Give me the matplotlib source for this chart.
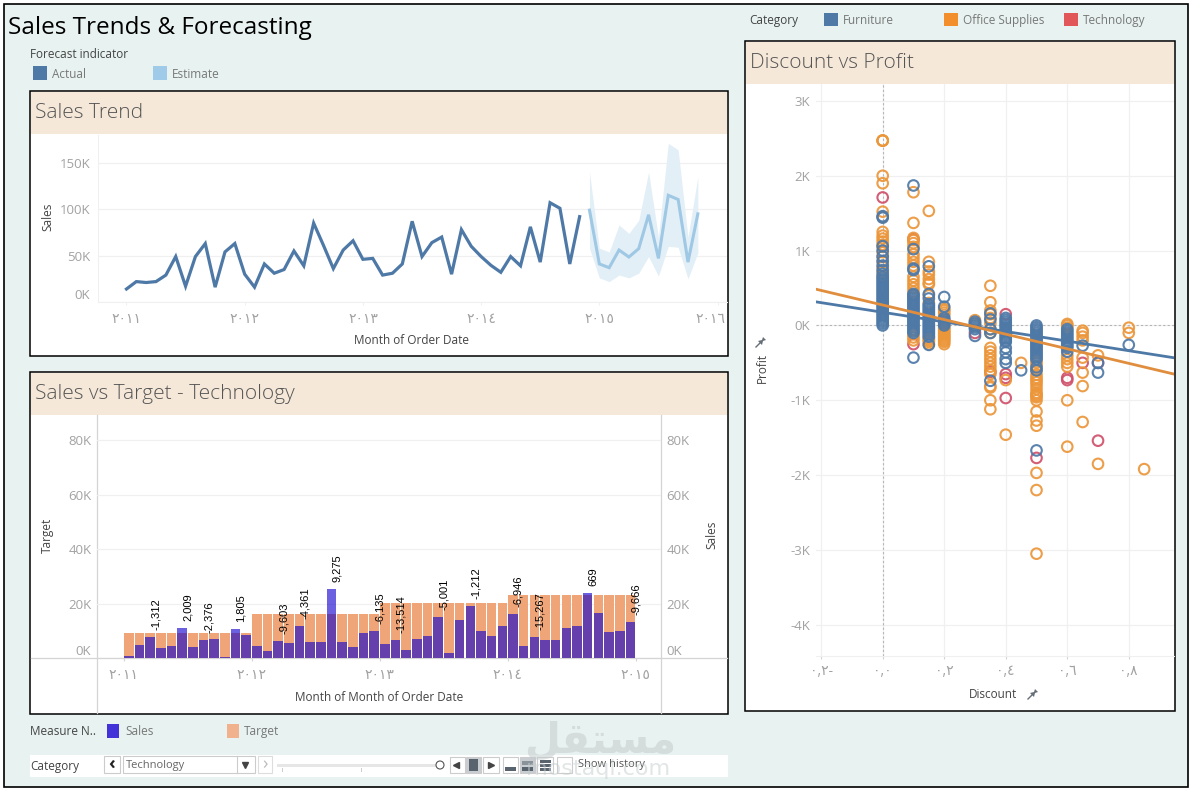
"""Sales Trends & Forecasting dashboard, redrawn with matplotlib."""

import matplotlib as mpl
mpl.use("Agg")
import matplotlib.pyplot as plt
from matplotlib.patches import Rectangle, Circle, Polygon
from matplotlib.transforms import ScaledTranslation

plt.rcParams['font.family'] = ['Open Sans', 'DejaVu Sans']

# === Sales trend (in K) ===
actual_sales = [14, 22, 21, 22, 29, 49, 17, 49, 63, 16, 54, 63,
                30, 16, 41, 31, 35, 55, 39, 85, 61, 36, 56, 66,
                46, 47, 29, 31, 41, 87, 49, 64, 70, 30, 78, 60,
                49, 39.5, 32, 49, 39, 81, 43, 107, 101, 41, 92]
estimate_sales = [99, 41, 37, 56, 48.5, 57.5, 94, 47, 115, 110.5, 43, 95]
estimate_upper = [140, 58, 54, 83, 74, 88, 140, 70, 171, 164, 70, 135]
estimate_lower = [58, 26, 22, 29, 26, 31, 49, 28, 60, 59, 25, 53]
year_labels = ["٢٠١١", "٢٠١٢", "٢٠١٣", "٢٠١٤", "٢٠١٥", "٢٠١٦"]

# === Sales vs target, Technology (in K) ===
target_by_year = [9.2, 16.1, 20.2, 23.0]
tech_sales = [0.6, 4.6, 7.6, 3.5, 4.3, 11.0, 3.9, 6.5, 6.9, 0.4, 10.8, 8.3,
              4.3, 2.4, 6.1, 5.4, 11.6, 5.7, 5.7, 25.3, 5.7, 3.9, 9.05, 9.9,
              5.0, 6.6, 2.9, 7.0, 8.0, 15.2, 1.7, 13.8, 19.0, 9.8, 8.0, 11.6,
              16.1, 4.3, 7.7, 6.5, 6.5, 10.9, 11.6, 23.7, 16.5, 9.4, 9.8, 13.1]
gap_months = [2, 5, 7, 10, 14, 16, 19, 23, 25, 29, 32, 36, 38, 43, 47]
gap_labels = ["-1,312", "2,009", "-2,376", "1,805", "-9,603", "-4,361", "9,275", "-6,135",
              "-13,514", "-5,001", "-1,212", "-6,946", "-15,267", "669", "-9,666"]

# === Discount vs profit (profit in K) ===
furniture = {
    0.0: [0, .025, .05, .075, .1, .125, .15, .175, .2, .225, .25, .275, .3, .325, .35, .375,
          .4, .425, .45, .475, .5, .525, .55, .575, .6, .625, .65, .69, .74, .8, .86, .92,
          1.0, 1.06, 1.44, 1.46],
    0.1: [1.87, 1.02, .76, .74, .42, .4, .375, .35, .325, .3, .275, .25, .225, .2, .175, .15,
          .125, .1, .075, .05, .025, 0, -.025, -.05, -.075, -.1, -.43],
    0.15: [.79, .42, .36, .28, .255, .23, .205, .18, .155, .13, .105, .08, .055, .03, .005,
           -.02, -.045, -.07, -.095, -.12, -.15, -.26],
    0.2: [.38, .25, .1, .075, .05, .025, 0],
    0.3: [.05, .025, 0, -.025, -.05, -.14],
    0.35: [.16, .08, -.05, -.1, -.74],
    0.4: [.1, .075, .05, .025, 0, -.025, -.05, -.075, -.1, -.125, -.15, -.175, -.2, -.22,
          -.3, -.36, -.45, -.5],
    0.45: [-.6],
    0.5: [0, -.025, -.05, -.075, -.1, -.125, -.15, -.175, -.2, -.225, -.25, -.275, -.3, -.325,
          -.35, -.375, -.4, -.425, -.45, -.56, -.6, -1.67],
    0.6: [-.05, -.075, -.1, -.125, -.15, -.175, -.2, -.225, -.25, -.275, -.3, -.35],
    0.65: [-.27],
    0.7: [-.5, -.63],
    0.8: [-.26],
}
office = {
    0.0: [2.47, 2.47, 2.47, 2.0, 1.9, 1.52, 1.45, 1.25, 1.2, 1.16, 1.12, 1.08, 1.05,
          .98, .92, .85, .78, .72, .66],
    0.1: [1.78, 1.37, 1.17, 1.14, 1.1, 1.05, .95, .9, .85, .8, .65, .6, .55, .5, .45,
          .4, -.12, -.16, -.2],
    0.15: [1.53, .85, .72, .68, .62, .57, .55, .4, .3, -.16, -.18, -.2, -.22, -.25],
    0.2: [.22, .2, .17, .14, .05, -.02, -.04, -.06, -.08, -.1, -.12, -.14, -.16, -.18, -.2, -.22, -.25],
    0.3: [.07, .03, 0],
    0.35: [.53, .31, .2, .15, .1, .03, -.05, -.1, -.3, -.35, -.4, -.45, -.5, -.55, -.6,
           -.65, -.81, -.83, -1.0, -1.12],
    0.4: [-.73, -1.46],
    0.45: [-.5],
    0.5: [-.47, -.5, -.54, -.6, -.66, -.7, -.73, -.76, -.8, -.85, -.9, -.92, -.94, -.96, -1.0,
          -1.15, -1.27, -1.34, -1.97, -2.2, -3.05],
    0.6: [.02, 0, -.03, -.4, -.45, -.5, -.55, -1.0, -1.62],
    0.65: [-.07, -.1, -.15, -.2, -.43, -.63, -.81, -1.29],
    0.7: [-.4, -1.85],
    0.8: [-.03, -.1],
    0.85: [-1.92],
}
technology = {
    0.0: [1.71],
    0.1: [1.15, -.25],
    0.3: [-.1],
    0.35: [-.62],
    0.4: [.15, -.65, -.7, -.97],
    0.5: [-1.77],
    0.6: [-.7, -.73],
    0.65: [-.5],
    0.7: [-.5, -1.54],
}
trend_x = [-0.2168, 0.947]
trend_furniture = [0.315, -0.432]
trend_office = [0.484, -0.65]
discount_ticks = [-0.2, 0, 0.2, 0.4, 0.6, 0.8]
discount_labels = ["٠,٢-", "٠,٠", "٠,٢", "٠,٤", "٠,٦", "٠,٨"]
profit_ticks = [-4, -3, -2, -1, 0, 1, 2, 3]

# Farben
BG = "#e8f2f1"
BAND = "#f5e8d8"
BLUE = "#4e79a7"
LIGHTBLUE = "#a0cbe8"
ORANGE = "#f28e2b"
RED = "#e15759"
GRID = "#f0f0f0"
AXIS = "#d4d4d4"
TICK = "#a2a2a2"
LABEL = "#444444"

W, H = 1200, 797
fig = plt.figure(figsize=(W / 100, H / 100), dpi=100, facecolor="white")

# Hintergrund in Pixelkoordinaten
bg = fig.add_axes([0, 0, 1, 1], zorder=0)
bg.set_xlim(0, W)
bg.set_ylim(H, 0)
bg.axis("off")


def chart_axes(x0, y0, x1, y1):
    """Achse aus Pixelrechteck (y von oben gezählt)"""
    a = fig.add_axes([x0 / W, 1 - y1 / H, (x1 - x0) / W, (y1 - y0) / H], zorder=2)
    a.patch.set_alpha(0)
    for s in a.spines.values():
        s.set_visible(False)
    return a


def box(x0, y0, x1, y1, face="white", edge="none", lw=1.0, z=1):
    bg.add_patch(Rectangle((x0, y0), x1 - x0, y1 - y0, facecolor=face,
                           edgecolor=edge, linewidth=lw, zorder=z))


def label(x, y, s, size=9, color=LABEL, ha="left", va="center", **kw):
    bg.text(x, y, s, fontsize=size, color=color, ha=ha, va=va, zorder=6, **kw)


def pin(x, y):
    # Stecknadel, schräg nach links unten
    col = "#666e78"
    bg.plot([x - 5, x], [y + 5, y], color=col, lw=1.0, zorder=6)
    bg.add_patch(Polygon([(x - 3, y - 1), (x + 1, y - 2), (x + 2, y - 5), (x + 5, y - 2),
                          (x + 2, y - 1), (x + 1, y + 3)], closed=True, facecolor=col,
                         edgecolor="none", zorder=6))


box(4, 4, 1188, 787, face=BG, edge="black", lw=1.2)

# Panels
for x0, y0, x1, y1, title in [(30, 91, 728, 356, "Sales Trend"),
                              (30, 372, 728, 714, "Sales vs Target - Technology"),
                              (745, 41, 1175, 711, "Discount vs Profit")]:
    box(x0, y0, x1, y1, edge="black", lw=1.1, z=2)
    box(x0 + 1, y0 + 1, x1 - 1, y0 + 43, face=BAND, z=3)
    label(x0 + 5, y0 + 22, title, size=15, color="#555555", fontweight="light")

# Kopf und Legenden
label(8, 27.5, "Sales Trends & Forecasting", size=17.5, color="black")
label(30, 54.5, "Forecast indicator", size=8.5)
box(33, 66, 47, 80, face=BLUE)
label(52, 74.5, "Actual", size=8.5, color="#777777")
box(153, 66, 167, 80, face=LIGHTBLUE)
label(172, 74.5, "Estimate", size=8.5, color="#777777")

label(749, 20.5, "Category", size=8.5)
for sx, tx, col, name in [(824, 843, BLUE, "Furniture"), (944, 963, ORANGE, "Office Supplies"),
                          (1064, 1083, RED, "Technology")]:
    box(sx, 13, sx + 14, 26, face=col)
    label(tx, 20.5, name, size=8.5, color="#777777")

label(30, 731.5, "Measure N..", size=8.5)
box(107, 724, 119, 738, face="#4233d8")
label(125, 731.5, "Sales", size=8.5, color="#777777")
box(227, 724, 239, 738, face="#f0b18c")
label(244, 731.5, "Target", size=8.5, color="#777777")

# Filterleiste
box(30, 755, 728, 777)
label(30, 766.5, "Category", size=8.5)
box(104, 756, 120, 773, edge="#cccccc", lw=0.8)
label(112, 764, "‹", size=13, color="#222222", ha="center", fontweight="bold")
box(123, 756, 255, 773, edge="#cccccc", lw=0.8)
label(126, 765.5, "Technology", size=8, color="#666666")
bg.plot([237, 237], [756, 773], color="#cccccc", lw=0.8, zorder=4)
bg.plot([245], [765], marker="v", ms=4, color="#444444", zorder=6)
box(258, 756, 272, 773, edge="#dddddd", lw=0.8)
label(265, 764, "›", size=13, color="#bbbbbb", ha="center")
box(277, 763.5, 437, 766.5, face="#e6e6e6")
for tx in [282, 361]:
    bg.plot([tx, tx], [768, 771], color="#cccccc", lw=0.7, zorder=4)
bg.add_patch(Circle((440, 765), 4, facecolor="white", edgecolor="#555555", lw=0.8, zorder=5))
for x0, x1, sel in [(450, 465, False), (466, 481, True), (483, 499, False),
                    (503, 518, False), (520, 535, True), (537, 553, False), (557, 572, False)]:
    box(x0, 757, x1, 773, face="#c9ced3" if sel else "white", edge="#cccccc", lw=0.8)
bg.plot([456], [765], marker="<", ms=5, color="#444444", zorder=6)
box(469, 759, 478, 771, face="#59636e", z=6)
bg.plot([491], [765], marker=">", ms=5, color="#444444", zorder=6)
box(505, 767, 516, 771, face="#59636e", z=6)
box(522, 761, 533, 765, face="#8a929a", z=6)
box(522, 767, 533, 771, face="#59636e", z=6)
for ty in [760, 764, 768]:
    box(540, ty, 551, ty + 3, face="#59636e", z=6)
label(578, 765, "Show history", size=8, color="#555555")

# Wasserzeichen
bg.text(600, 740, "ﻞﻘﺘﺴﻣ", fontsize=30, color="#c4cccc", alpha=0.55, ha="center", va="center",
        family=["DejaVu Sans"], fontweight="bold", zorder=7)
bg.text(598, 769, "mostaql.com", fontsize=16, color="#c4cccc", alpha=0.5, ha="center", va="center",
        family=["DejaVu Sans"], zorder=7)

# === Sales Trend ===
ax1 = chart_axes(98, 135, 727, 302)
months = list(range(len(actual_sales)))
est_months = [len(actual_sales) + i for i in range(len(estimate_sales))]
ax1.fill_between(est_months, estimate_lower, estimate_upper, color="#e3eff7", lw=0)
ax1.plot(months, actual_sales, color=BLUE, lw=2.3, solid_joinstyle="miter")
ax1.plot(est_months, estimate_sales, color="#9fc8e4", lw=2.2, solid_joinstyle="miter")
ax1.set_xlim(-2.89, 60.96)
ax1.set_ylim(0, 180)
ax1.set_yticks([0, 50, 100, 150], ["0K", "50K", "100K", "150K"])
ax1.set_xticks([12 * i for i in range(6)], year_labels)
ax1.yaxis.grid(True, color=GRID, lw=0.9)
ax1.set_axisbelow(True)
ax1.spines["left"].set_visible(True)
ax1.spines["left"].set_color(GRID)
ax1.spines["bottom"].set_visible(True)
ax1.spines["bottom"].set_color(GRID)
ax1.tick_params(axis="y", length=0, labelsize=9.5, labelcolor=TICK, pad=5.5)
ax1.tick_params(axis="x", length=2, color=GRID, labelsize=10, labelcolor=TICK, pad=5)
ax1.get_yticklabels()[0].set_va("bottom")
last = ax1.get_xticklabels()[-1]
last.set_transform(last.get_transform() + ScaledTranslation(-0.07, 0, fig.dpi_scale_trans))
label(48, 217, "Sales", size=8.5, rotation=90, ha="center")
label(412, 340.5, "Month of Order Date", size=8.5, ha="center")

# === Sales vs Target ===
ax2 = chart_axes(97, 415, 661, 658)
bar_x = [m + 0.5 for m in range(len(tech_sales))]
targets = [target_by_year[m // 12] for m in range(len(tech_sales))]
ax2.bar(bar_x, targets, width=0.9, color="#efa578", lw=0, zorder=2)
ax2.bar(bar_x, tech_sales, width=0.9, color="#1000cd", alpha=0.62, lw=0, zorder=3)
for m, txt in zip(gap_months, gap_labels):
    ax2.annotate(txt, (m + 1, tech_sales[m]), xytext=(0, 5), textcoords="offset points",
                 rotation=90, ha="center", va="bottom", fontsize=8, color="black",
                 family=["Liberation Sans"], zorder=5)
ax2.set_xlim(-2.484, 50.37)
ax2.set_ylim(0, 89.2)
ax2.set_yticks([0, 20, 40, 60, 80], ["0K", "20K", "40K", "60K", "80K"])
ax2.set_xticks([12 * i for i in range(5)], year_labels[:5])
ax2.yaxis.grid(True, color=GRID, lw=0.9, zorder=0)
ax2.set_axisbelow(True)
ax2.tick_params(axis="y", length=0, labelsize=9.5, labelcolor=TICK, pad=4)
ax2.tick_params(axis="x", length=2, color=AXIS, labelsize=10, labelcolor=TICK, pad=5)
ax2.get_yticklabels()[0].set_va("bottom")
ax2r = ax2.twinx()
ax2r.patch.set_alpha(0)
for s in ax2r.spines.values():
    s.set_visible(False)
ax2r.set_ylim(0, 89.2)
ax2r.set_yticks([0, 20, 40, 60, 80], ["0K", "20K", "40K", "60K", "80K"])
ax2r.tick_params(axis="y", length=0, labelsize=9.5, labelcolor=TICK, pad=4)
ax2r.get_yticklabels()[0].set_va("bottom")
bg.plot([31, 727], [658, 658], color=AXIS, lw=0.9, zorder=4)
for vx in [97, 661]:
    bg.plot([vx, vx], [415, 713], color=AXIS, lw=0.9, zorder=4)
label(47, 535, "Target", size=8.5, rotation=90, ha="center")
label(712, 535, "Sales", size=8.5, rotation=90, ha="center")
label(379, 697.5, "Month of Month of Order Date", size=8.5, ha="center")

# === Discount vs Profit ===
ax3 = chart_axes(816, 84, 1174, 656)
for data, col in [(technology, "#d0506a"), (office, "#ec963a"), (furniture, BLUE)]:
    for disc, vals in data.items():
        ax3.scatter([disc] * len(vals), vals, s=58, facecolors="none", edgecolors=col,
                    linewidths=1.5, alpha=0.92, zorder=3, clip_on=True)
ax3.plot(trend_x, trend_furniture, color=BLUE, lw=2.0, zorder=4)
ax3.plot(trend_x, trend_office, color="#e08e3e", lw=2.0, zorder=4)
ax3.set_xlim(-0.2168, 0.947)
ax3.set_ylim(-4.417, 3.226)
ax3.set_xticks(discount_ticks, discount_labels)
ax3.set_yticks(profit_ticks, [f"{p}K" for p in profit_ticks])
ax3.grid(True, color=GRID, lw=0.9)
ax3.set_axisbelow(True)
ax3.axvline(0, color="#b5b5b5", lw=0.8, ls=(0, (2, 2)), zorder=1)
ax3.axhline(0, color="#b5b5b5", lw=0.8, ls=(0, (2, 2)), zorder=1)
ax3.spines["bottom"].set_visible(True)
ax3.spines["bottom"].set_color(GRID)
ax3.tick_params(axis="y", length=0, labelsize=9.5, labelcolor=TICK, pad=4)
ax3.tick_params(axis="x", length=2, color=AXIS, labelsize=10, labelcolor=TICK, pad=4)
label(762, 368, "Profit", size=8.5, rotation=90, ha="center")
pin(761, 342)
label(993, 695, "Discount", size=8.5, ha="center")
pin(1033, 694)

fig.savefig("out.png", dpi=100, facecolor=fig.get_facecolor())
